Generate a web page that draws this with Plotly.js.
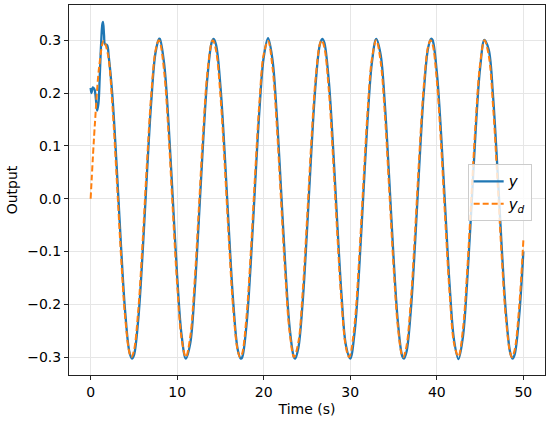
<!DOCTYPE html>
<html>
<head>
<meta charset="utf-8">
<script src="https://cdn.plot.ly/plotly-3.0.1.min.js"></script>
<style>
html,body{margin:0;padding:0;background:#fff;}
#chart{width:550px;height:422px;}
</style>
</head>
<body>
<div id="chart"></div>
<script>
const tDesired = [0,0.5,1,1.5,2,2.5,3,3.5,4,4.5,5,5.5,6,6.5,7,7.5,8,8.5,9,9.5,10,10.5,11,11.5,12,12.5,13,13.5,14,14.5,15,15.5,16,16.5,17,17.5,18,18.5,19,19.5,20,20.5,21,21.5,22,22.5,23,23.5,24,24.5,25,25.5,26,26.5,27,27.5,28,28.5,29,29.5,30,30.5,31,31.5,32,32.5,33,33.5,34,34.5,35,35.5,36,36.5,37,37.5,38,38.5,39,39.5,40,40.5,41,41.5,42,42.5,43,43.5,44,44.5,45,45.5,46,46.5,47,47.5,48,48.5,49,49.5,50];
const yDesired = [0,0.144,0.252,0.299,0.273,0.180,0.042,-0.105,-0.227,-0.293,-0.288,-0.212,-0.084,0.065,0.197,0.281,0.297,0.240,0.124,-0.023,-0.163,-0.264,-0.300,-0.263,-0.161,-0.020,0.126,0.241,0.297,0.280,0.195,0.062,-0.086,-0.214,-0.288,-0.294,-0.225,-0.103,0.045,0.182,0.274,0.299,0.251,0.141,-0.003,-0.146,-0.254,-0.300,-0.272,-0.177,-0.040,0.108,0.229,0.294,0.287,0.210,0.081,-0.067,-0.199,-0.282,-0.296,-0.238,-0.121,0.025,0.165,0.265,0.300,0.261,0.159,0.017,-0.128,-0.243,-0.298,-0.279,-0.193,-0.059,0.089,0.215,0.289,0.293,0.224,0.100,-0.048,-0.184,-0.275,-0.299,-0.250,-0.139,0.005,0.148,0.255,0.300,0.271,0.175,0.037,-0.110,-0.230,-0.294,-0.286,-0.208,-0.079];
// extra samples of y_d read at its peaks and troughs
const tDesiredExt = [4.71,7.85,14.14,17.28,26.70,29.85,36.13,39.27,48.69];
const yDesiredExt = [-0.300,0.300,0.300,-0.300,0.300,-0.300,-0.300,0.300,-0.300];

// Actual output y (dense at the start transient, then every 0.5 s)
const tActual = [0,0.1,0.25,0.45,0.6,0.75,0.9,1.05,1.2,1.35,1.43,1.55,1.65,1.9,2.1,2.5,3,3.5,4,4.5,5,5.5,6,6.5,7,7.5,8,8.5,9,9.5,10,10.5,11,11.5,12,12.5,13,13.5,14,14.5,15,15.5,16,16.5,17,17.5,18,18.5,19,19.5,20,20.5,21,21.5,22,22.5,23,23.5,24,24.5,25,25.5,26,26.5,27,27.5,28,28.5,29,29.5,30,30.5,31,31.5,32,32.5,33,33.5,34,34.5,35,35.5,36,36.5,37,37.5,38,38.5,39,39.5,40,40.5,41,41.5,42,42.5,43,43.5,44,44.5,45,45.5,46,46.5,47,47.5,48,48.5,49,49.5,50];
const yActual = [0.210,0.200,0.211,0.207,0.190,0.167,0.180,0.230,0.290,0.330,0.335,0.310,0.293,0.291,0.268,0.198,0.064,-0.087,-0.216,-0.292,-0.297,-0.229,-0.105,0.045,0.183,0.277,0.303,0.255,0.144,-0.002,-0.147,-0.257,-0.303,-0.275,-0.180,-0.041,0.108,0.231,0.297,0.291,0.213,0.083,-0.067,-0.201,-0.286,-0.301,-0.241,-0.123,0.025,0.167,0.268,0.304,0.265,0.161,0.018,-0.129,-0.245,-0.301,-0.283,-0.196,-0.061,0.089,0.218,0.293,0.296,0.227,0.102,-0.047,-0.185,-0.278,-0.303,-0.253,-0.142,0.005,0.150,0.258,0.303,0.274,0.178,0.038,-0.111,-0.233,-0.298,-0.290,-0.211,-0.081,0.070,0.203,0.286,0.301,0.240,0.121,-0.027,-0.169,-0.269,-0.304,-0.264,-0.159,-0.016,0.132,0.247,0.301,0.282,0.194,0.058,-0.092,-0.219,-0.293,-0.295,-0.225,-0.100];
// extra samples of y read at its peaks and troughs
const tActualExt = [4.78,7.92,14.21,17.35,23.63,26.77,36.20,39.34,48.76];
const yActualExt = [-0.303,0.303,0.303,-0.303,-0.303,0.303,-0.303,0.303,-0.303];

const xTicks = [0,10,20,30,40,50];
const yTicks = [-0.3,-0.2,-0.1,0.0,0.1,0.2,0.3];

function merge(ta, ya, tb, yb) {
  const pts = [];
  for (let i = 0; i < ta.length; i++) pts.push([ta[i], ya[i]]);
  for (let i = 0; i < tb.length; i++) pts.push([tb[i], yb[i]]);
  pts.sort((a, b) => a[0] - b[0]);
  return {x: pts.map(p => p[0]), y: pts.map(p => p[1])};
}
const dActual = merge(tActual, yActual, tActualExt, yActualExt);
const dDesired = merge(tDesired, yDesired, tDesiredExt, yDesiredExt);

const font = "DejaVu Sans, sans-serif";

const traces = [
  {
    x: dActual.x, y: dActual.y, type: 'scatter', mode: 'lines',
    name: '<i>y</i>',
    line: {color: '#1f77b4', width: 2.3, shape: 'spline', smoothing: 1}
  },
  {
    x: dDesired.x, y: dDesired.y, type: 'scatter', mode: 'lines',
    name: '<i>y</i><sub><i>d</i></sub>',
    line: {color: '#ff7f0e', width: 2, dash: '6px,3px', shape: 'spline', smoothing: 1}
  }
];

const axisCommon = {
  showline: true, linecolor: '#222', linewidth: 1, mirror: true,
  ticks: 'outside', ticklen: 4, tickwidth: 1, tickcolor: '#222',
  showgrid: true, gridcolor: '#e6e6e6', gridwidth: 1,
  zeroline: false,
  tickfont: {family: font, size: 14, color: '#000'}
};

const layout = {
  width: 550, height: 422,
  margin: {l: 69, r: 5, t: 5, b: 47},
  paper_bgcolor: '#fff', plot_bgcolor: '#fff',
  font: {family: font, color: '#000'},
  xaxis: Object.assign({}, axisCommon, {
    range: [-2.5, 52.5], tickvals: xTicks, ticktext: xTicks.map(String),
    title: {text: 'Time (s)', font: {family: font, size: 14, color: '#000'}, standoff: 5}
  }),
  yaxis: Object.assign({}, axisCommon, {
    range: [-0.334, 0.367], tickvals: yTicks,
    ticktext: yTicks.map(v => (v < 0 ? '\u2212' : '') + Math.abs(v).toFixed(1)),
    title: {text: 'Output', font: {family: font, size: 14, color: '#000'}, standoff: 6}
  }),
  showlegend: true,
  legend: {
    x: 0.972, xanchor: 'right', y: 0.57, yanchor: 'top',
    bgcolor: 'rgba(255,255,255,0.8)', bordercolor: '#cccccc', borderwidth: 1,
    font: {family: font, size: 15, color: '#000'},
    itemwidth: 30, tracegroupgap: 0
  }
};

Plotly.newPlot('chart', traces, layout, {displayModeBar: false, staticPlot: true});
</script>
</body>
</html>
